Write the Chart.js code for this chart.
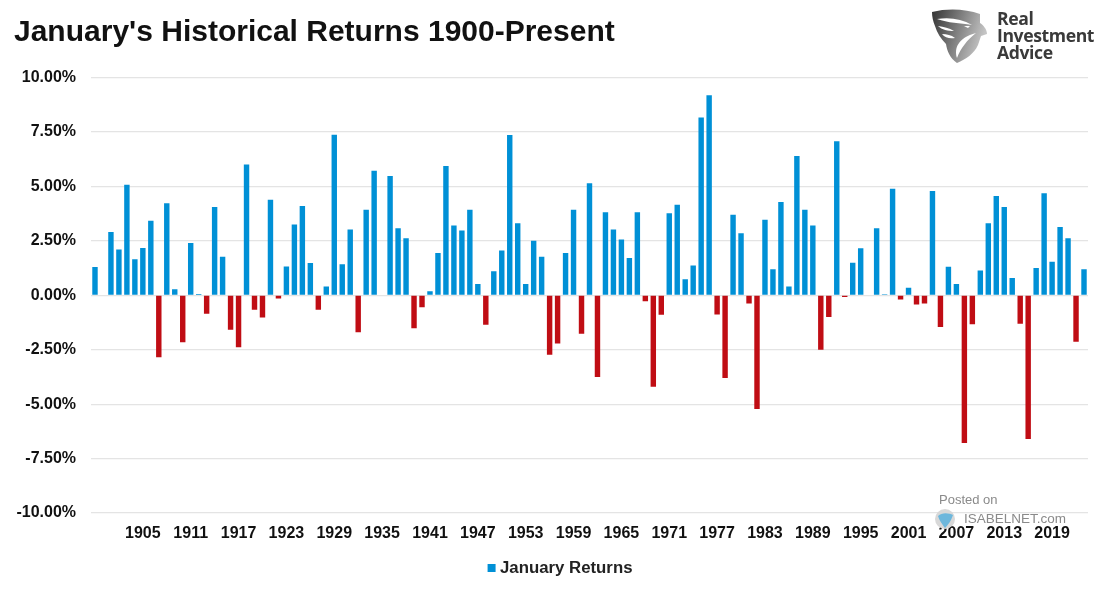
<!DOCTYPE html>
<html>
<head>
<meta charset="utf-8">
<script src="https://cdn.jsdelivr.net/npm/chart.js@4"></script>
<style>
  html, body { margin: 0; padding: 0; background: #fff; }
  #wrap { position: relative; width: 1120px; height: 600px; overflow: hidden; }
  canvas { position: absolute; left: 0; top: 0; }
  .brand { position: absolute; left: 997px; top: 10px; font: 700 17.6px/17px "Open Sans", sans-serif; letter-spacing: -0.4px; color: #3a3a3a; }
  .posted { position: absolute; font: 13px "Liberation Sans", sans-serif; color: #8a8a8a; }
  svg { position: absolute; }
</style>
</head>
<body>
<div id="wrap">
  <canvas id="chartJanuary" width="1120" height="600"></canvas>

  <svg style="left:930px;top:8px" width="60" height="58" viewBox="0 0 60 58">
    <defs>
      <linearGradient id="shield" x1="0" y1="0" x2="1" y2="0.3">
        <stop offset="0" stop-color="#333"/>
        <stop offset="1" stop-color="#c4c4c4"/>
      </linearGradient>
    </defs>
    <path d="M2 4 C18 0 36 1 50 6 L50 15 C53 17 57 21 57 26 L51 28 L48 37 C44 46 36 51 27 55 C20 50 17 43 16 36 C11 31 7 25 5 18 C3 13 2 9 2 4 Z" fill="url(#shield)"/>
    <path d="M7 11 C20 9 32 11 42 17 C30 15 18 15 7 11 Z M8 18 C14 19 19 20 24 23 C18 23 12 22 8 18 Z M12 26 C17 26 21 27 25 30 C20 31 15 30 12 26 Z M27 50 C24 40 28 30 46 25 C37 32 31 40 27 50 Z M34 18 L40 18 L38 20 Z" fill="#fff"/>
  </svg>
  <div class="brand">Real<br>Investment<br>Advice</div>

  <div class="posted" style="left:939px;top:492px">Posted on</div>
  <svg style="left:934px;top:508px" width="22" height="22" viewBox="0 0 22 22">
    <circle cx="11" cy="11" r="10" fill="#d8d8d8"/>
    <path d="M4 8 C8 4 15 5 19 7 C17 13 14 17 11 20 C8 16 5 12 4 8 Z" fill="#6db7dc"/>
  </svg>
  <div class="posted" style="left:964px;top:511px;font-size:13.5px">ISABELNET.com</div>
</div>

<script>
const categories = [
  '1899','1900','1901','1902','1903','1904','1905','1906','1907','1908','1909','1910','1911','1912','1913',
  '1914','1915','1916','1917','1918','1919','1920','1921','1922','1923','1924','1925','1926','1927','1928',
  '1929','1930','1931','1932','1933','1934','1935','1936','1937','1938','1939','1940','1941','1942','1943',
  '1944','1945','1946','1947','1948','1949','1950','1951','1952','1953','1954','1955','1956','1957','1958',
  '1959','1960','1961','1962','1963','1964','1965','1966','1967','1968','1969','1970','1971','1972','1973',
  '1974','1975','1976','1977','1978','1979','1980','1981','1982','1983','1984','1985','1986','1987','1988',
  '1989','1990','1991','1992','1993','1994','1995','1996','1997','1998','1999','2000','2001','2002','2003',
  '2004','2005','2006','2007','2008','2009','2010','2011','2012','2013','2014','2015','2016','2017','2018',
  '2019','2020','2021','2022','2023'
];

const januaryReturns = [
  1.30, 0, 2.90, 2.10, 5.08, 1.65, 2.17, 3.42, -2.85, 4.22, 0.28, -2.16, 2.40, 0.06, -0.85,
  4.05, 1.77, -1.58, -2.39, 6.00, -0.67, -1.02, 4.39, -0.15, 1.32, 3.25, 4.10, 1.48, -0.67, 0.40,
  7.37, 1.42, 3.02, -1.70, 3.93, 5.72, 0, 5.48, 3.08, 2.62, -1.52, -0.55, 0.18, 1.94, 5.93,
  3.20, 2.97, 3.93, 0.52, -1.35, 1.10, 2.06, 7.36, 3.31, 0.52, 2.50, 1.77, -2.73, -2.22,
  1.94, 3.93, -1.77, 5.14, -3.75, 3.81, 3.02, 2.56, 1.71, 3.81, -0.27, -4.20, -0.90, 3.77, 4.16,
  0.73, 1.37, 8.16, 9.19, -0.88, -3.80, 3.70, 2.85, -0.38, -5.22, 3.47, 1.19, 4.28, 0.40, 6.39,
  3.93, 3.20, -2.50, -1.00, 7.07, -0.08, 1.49, 2.16, 0, 3.08, 0.05, 4.89, -0.20, 0.34, -0.43,
  -0.38, 4.79, -1.46, 1.31, 0.52, -6.78, -1.33, 1.14, 3.31, 4.56, 4.05, 0.79, -1.31, -6.60,
  1.25, 4.68, 1.54, 3.14, 2.62, -2.14, 1.19
];

const tickYears = [
  '1905','1911','1917','1923','1929','1935','1941','1947','1953','1959',
  '1965','1971','1977','1983','1989','1995','2001','2007','2013','2019'
];

// legend sits right of the canvas centre in the original
const legendShift = {
  id: 'legendShift',
  afterLayout(chart) {
    chart.legend.left += 11;
    chart.legend.right += 11;
  }
};

new Chart(document.getElementById('chartJanuary').getContext('2d'), {
  type: 'bar',
  data: {
    labels: categories,
    datasets: [{
      label: 'January Returns',
      data: januaryReturns,
      backgroundColor: ctx => (ctx.raw < 0 ? '#c00d14' : '#0090d6'),
      borderWidth: 0,
      barPercentage: 0.68,
      categoryPercentage: 1
    }]
  },
  plugins: [legendShift],
  options: {
    responsive: false,
    animation: false,
    layout: { padding: { left: 14, right: 32, top: 0, bottom: 13.5 } },
    plugins: {
      tooltip: { enabled: false },
      title: {
        display: true,
        text: "January's Historical Returns 1900-Present",
        align: 'start',
        color: '#111',
        font: { family: '"Liberation Sans"', size: 30, weight: 'bold' },
        padding: { top: 15, bottom: 26.5 }
      },
      legend: {
        position: 'bottom',
        labels: {
          usePointStyle: true,
          pointStyle: 'rect',
          boxWidth: 0.1,
          boxHeight: 8,
          padding: 13.5,
          color: '#222',
          font: { family: '"Liberation Sans"', size: 16.8, weight: 'bold' }
        }
      }
    },
    scales: {
      x: {
        grid: { display: false },
        border: { display: false },
        ticks: {
          autoSkip: false,
          maxRotation: 0,
          minRotation: 0,
          padding: 3,
          color: '#111',
          font: { family: '"Liberation Sans"', size: 16, weight: 'bold' },
          callback(value) {
            const year = this.getLabelForValue(value);
            return tickYears.includes(year) ? year : '';
          }
        }
      },
      y: {
        min: -10,
        max: 10,
        afterFit(scale) { scale.width = 77; },
        grid: { color: '#e4e4e4', lineWidth: 1.2, drawTicks: false },
        border: { display: false },
        ticks: {
          stepSize: 2.5,
          padding: 15,
          color: '#111',
          font: { family: '"Liberation Sans"', size: 16, weight: 'bold' },
          callback: value => value.toFixed(2) + '%'
        }
      }
    }
  }
});
</script>
</body>
</html>
